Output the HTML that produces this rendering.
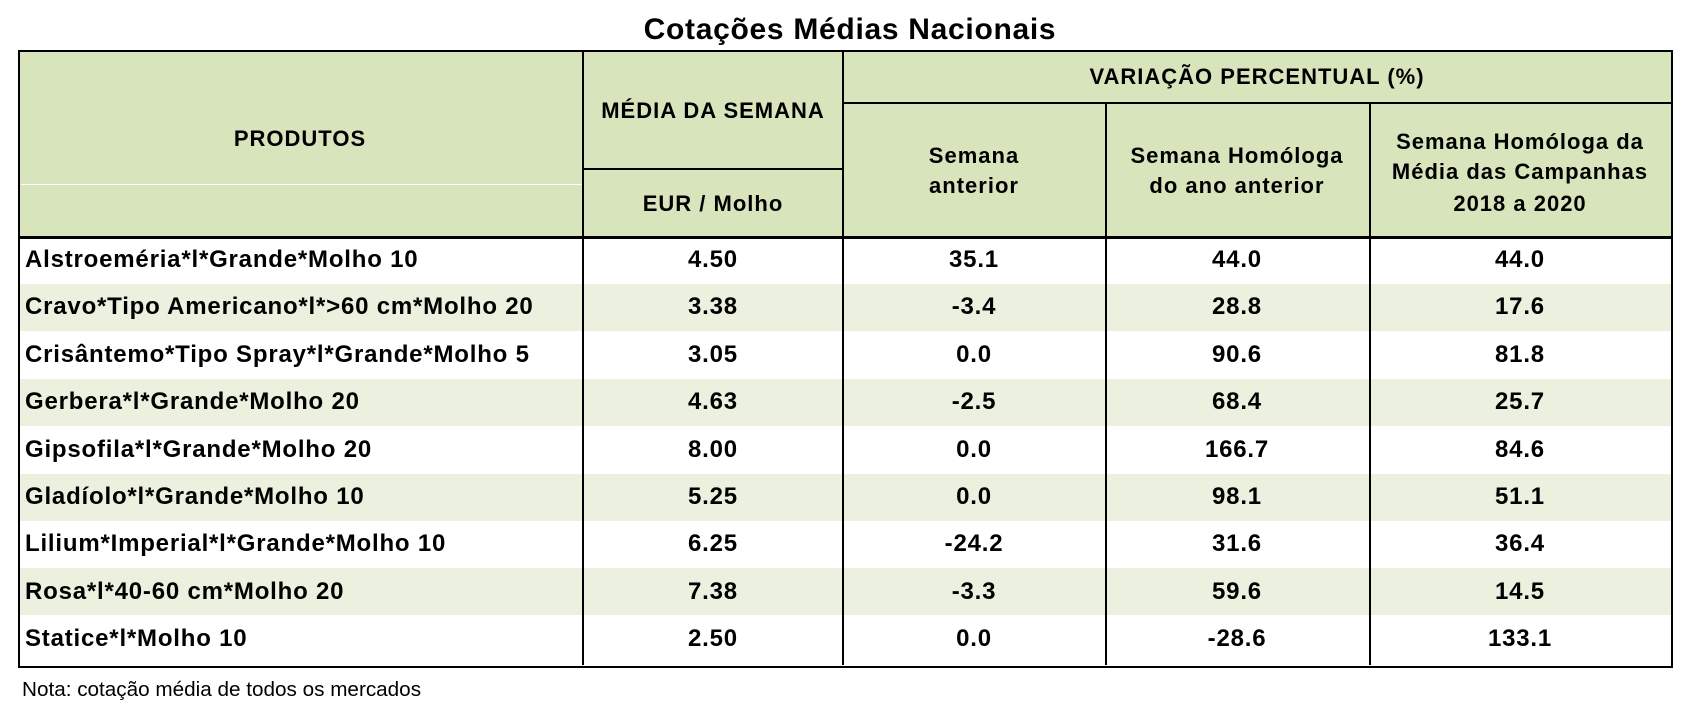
<!DOCTYPE html>
<html><head><meta charset="utf-8"><style>
body{margin:0;width:1694px;height:713px;background:#fff;position:relative;overflow:hidden;font-family:"Liberation Sans",Arial,sans-serif;}
.a{position:absolute}
.t{position:absolute;font-weight:bold;font-size:24px;letter-spacing:0.8px;color:#000;white-space:nowrap;line-height:26px}
.h{font-size:22px;letter-spacing:1px}
.c{transform:translateX(-50%)}
.hl{position:absolute;background:#000}
</style></head><body>
<div class="t c" style="left:850px;top:13px;font-size:30px;letter-spacing:0.7px;line-height:34px">Cotações Médias Nacionais</div>
<div class="a" style="left:19px;top:51px;width:1653px;height:187px;background:#d8e4bc"></div>
<div class="a" style="left:19px;top:284px;width:1653px;height:47px;background:#ebf1de"></div>
<div class="a" style="left:19px;top:379px;width:1653px;height:47px;background:#ebf1de"></div>
<div class="a" style="left:19px;top:474px;width:1653px;height:47px;background:#ebf1de"></div>
<div class="a" style="left:19px;top:568px;width:1653px;height:47px;background:#ebf1de"></div>
<div class="a" style="left:21px;top:184px;width:562px;height:1px;background:#fff"></div>
<div class="a" style="left:18px;top:50px;width:1651px;height:614px;border:2.5px solid #000"></div>
<div class="hl" style="left:18px;top:236px;width:1655px;height:3px"></div>
<div class="hl" style="left:843px;top:102px;width:829px;height:2px"></div>
<div class="hl" style="left:583px;top:168px;width:260px;height:2px"></div>
<div class="hl" style="left:582px;top:51px;width:2px;height:614px"></div>
<div class="hl" style="left:842px;top:51px;width:2px;height:614px"></div>
<div class="hl" style="left:1105px;top:103px;width:2px;height:562px"></div>
<div class="hl" style="left:1369px;top:103px;width:2px;height:562px"></div>
<div class="t c h" style="left:300px;top:126px">PRODUTOS</div>
<div class="t c h" style="left:713px;top:98px">MÉDIA DA SEMANA</div>
<div class="t c h" style="left:713px;top:191px">EUR / Molho</div>
<div class="t c h" style="left:1257px;top:64px">VARIAÇÃO PERCENTUAL (%)</div>
<div class="t c h" style="left:974px;top:141px;text-align:center;line-height:30px">Semana<br>anterior</div>
<div class="t c h" style="left:1237px;top:141px;text-align:center;line-height:30px">Semana Homóloga<br>do ano anterior</div>
<div class="t c h" style="left:1520px;top:127px;text-align:center;line-height:30px">Semana Homóloga da<br>Média das Campanhas</div>
<div class="t c h" style="left:1520px;top:191px">2018 a 2020</div>
<div id="rows"></div>
<div class="a" style="left:22px;top:678px;font-size:20.7px;color:#000">Nota: cotação média de todos os mercados</div>
<script>
var d=[["Alstroeméria*l*Grande*Molho 10","4.50","35.1","44.0","44.0"],
["Cravo*Tipo Americano*l*>60 cm*Molho 20","3.38","-3.4","28.8","17.6"],
["Crisântemo*Tipo Spray*l*Grande*Molho 5","3.05","0.0","90.6","81.8"],
["Gerbera*l*Grande*Molho 20","4.63","-2.5","68.4","25.7"],
["Gipsofila*l*Grande*Molho 20","8.00","0.0","166.7","84.6"],
["Gladíolo*l*Grande*Molho 10","5.25","0.0","98.1","51.1"],
["Lilium*Imperial*l*Grande*Molho 10","6.25","-24.2","31.6","36.4"],
["Rosa*l*40-60 cm*Molho 20","7.38","-3.3","59.6","14.5"],
["Statice*l*Molho 10","2.50","0.0","-28.6","133.1"]];
var cx=[713,974,1237,1520],h="";
d.forEach(function(r,i){var y=247+i*47.4;
h+='<div class="t" style="left:25px;top:'+y+'px">'+r[0].replace(">","&gt;")+'</div>';
for(var j=1;j<5;j++)h+='<div class="t c" style="left:'+cx[j-1]+'px;top:'+y+'px">'+r[j]+'</div>';});
document.getElementById("rows").innerHTML=h;
</script>
</body></html>
